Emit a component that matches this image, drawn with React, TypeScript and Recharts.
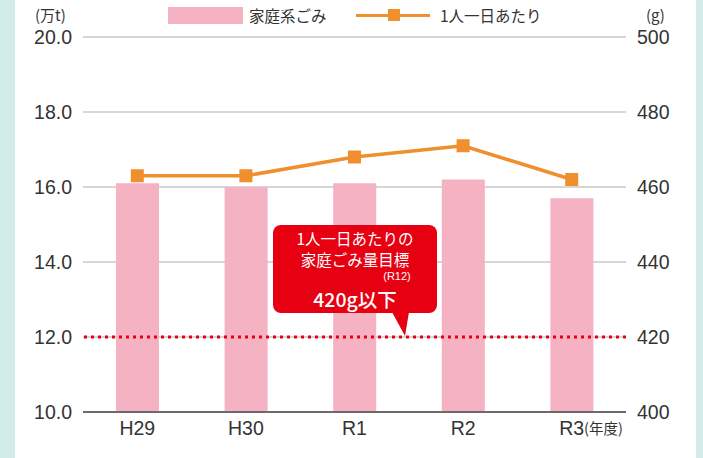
import React from 'react'
import { ComposedChart, Bar, Line, XAxis, YAxis, CartesianGrid, ReferenceLine } from 'recharts'

const years = ['H29', 'H30', 'R1', 'R2', 'R3']
const householdWaste = [16.1, 16.0, 16.1, 16.2, 15.7] // 万t
const perPersonDaily = [463, 463, 468, 471, 462] // g
const leftTicks = [10, 12, 14, 16, 18, 20]
const rightTicks = [400, 420, 440, 460, 480, 500]
const targetGrams = 420

const PINK = '#f4b2c3'
const ORANGE = '#ef8f2d'
const RED = '#e60012'
const TEAL = '#d4ece9'
const FONT = '"Liberation Sans", Arial, sans-serif'
const JP = '"Noto Sans CJK JP", sans-serif'

const data = years.map((year, i) => ({
  year,
  waste: householdWaste[i],
  perPerson: perPersonDaily[i],
}))

const SquareDot = (props: any) => {
  const { cx, cy } = props
  if (cx == null || cy == null) return null
  return <rect x={cx - 6.5} y={cy - 6.5} width={13} height={13} fill={ORANGE} />
}

const LegendBar = () => (
  <div style={{ position: 'absolute', left: 0, top: 6, width: 703, height: 24, fontFamily: JP, fontSize: 15.5, color: '#333' }}>
    <div style={{ position: 'absolute', left: 168, top: 1, width: 75, height: 17, background: PINK }} />
    <span style={{ position: 'absolute', left: 249, top: -2 }}>家庭系ごみ</span>
    <div style={{ position: 'absolute', left: 356, top: 8, width: 74, height: 3, background: ORANGE }} />
    <div style={{ position: 'absolute', left: 388, top: 3, width: 12, height: 12, background: ORANGE }} />
    <span style={{ position: 'absolute', left: 440, top: -2 }}>1人一日あたり</span>
  </div>
)

// speech bubble anchored to the target line
const TargetCallout = (props: any) => {
  const vb = props.viewBox
  if (!vb) return null
  const left = vb.x + 190
  const top = vb.y - 112
  const w = 164
  const h = 88
  const tipX = vb.x + 322
  const tipY = vb.y - 1
  return (
    <g>
      <rect x={left} y={top} width={w} height={h} rx={8} fill={RED} />
      <polygon points={`${tipX - 13},${top + h - 1} ${tipX + 4},${top + h - 1} ${tipX},${tipY}`} fill={RED} />
      <text x={left + w / 2} y={top + 20} textAnchor="middle" fill="#fff" fontFamily={JP} fontSize={15.5}>
        1人一日あたりの
      </text>
      <text x={left + w / 2} y={top + 41} textAnchor="middle" fill="#fff" fontFamily={JP} fontSize={15.5}>
        家庭ごみ量目標
      </text>
      <text x={left + 124} y={top + 55} textAnchor="middle" fill="#fff" fontFamily={FONT} fontSize={11}>
        (R12)
      </text>
      <text x={left + w / 2} y={top + 82} textAnchor="middle" fill="#fff" fontFamily={JP} fontSize={19.5} fontWeight={500}>
        420g以下
      </text>
    </g>
  )
}

export default function App() {
  return (
    <div style={{ position: 'absolute', left: 0, top: 0, width: 703, height: 458, background: TEAL }}>
      <div style={{ position: 'absolute', left: 15, top: 0, width: 681, height: 458, background: '#fff' }} />
      <div style={{ position: 'absolute', left: 0, top: 0 }}>
        <ComposedChart width={703} height={458} data={data} margin={{ top: 37, right: 0, bottom: 16, left: 0 }}>
          <CartesianGrid vertical={false} stroke="#c9c9c9" strokeWidth={1.5} yAxisId="left" />
          <XAxis
            dataKey="year"
            axisLine={{ stroke: '#6e6a6a', strokeWidth: 2 }}
            tickLine={false}
            tickSize={0}
            tickMargin={9}
            height={30}
            tick={{ fontFamily: FONT, fontSize: 19.5, fill: '#333' }}
          />
          <YAxis
            yAxisId="left"
            orientation="left"
            width={83}
            domain={[10, 20]}
            ticks={leftTicks}
            tickFormatter={(v) => v.toFixed(1)}
            axisLine={false}
            tickLine={false}
            tickSize={0}
            tickMargin={11}
            tick={{ fontFamily: FONT, fontSize: 19.5, fill: '#333' }}
          />
          <YAxis
            yAxisId="right"
            orientation="right"
            width={77}
            domain={[400, 500]}
            ticks={rightTicks}
            axisLine={false}
            tickLine={false}
            tickSize={0}
            tickMargin={11}
            tick={{ fontFamily: FONT, fontSize: 19.5, fill: '#333', textAnchor: 'start' }}
          />
          <Bar yAxisId="left" dataKey="waste" name="家庭系ごみ" fill={PINK} barSize={43} isAnimationActive={false} />
          <ReferenceLine
            yAxisId="right"
            y={targetGrams}
            stroke={RED}
            strokeWidth={3}
            strokeDasharray="3 4"
            label={<TargetCallout />}
          />
          <Line
            yAxisId="right"
            dataKey="perPerson"
            name="1人一日あたり"
            stroke={ORANGE}
            strokeWidth={3.5}
            dot={<SquareDot />}
            activeDot={false}
            isAnimationActive={false}
          />
          <text x={35} y={21} fontFamily={JP} fontSize={15} fill="#333">(万t)</text>
          <text x={646} y={21} fontFamily={JP} fontSize={15} fill="#333">(g)</text>
          <text x={584} y={434} fontFamily={JP} fontSize={14.5} fill="#333">(年度)</text>
        </ComposedChart>
      </div>
      <LegendBar />
    </div>
  )
}
